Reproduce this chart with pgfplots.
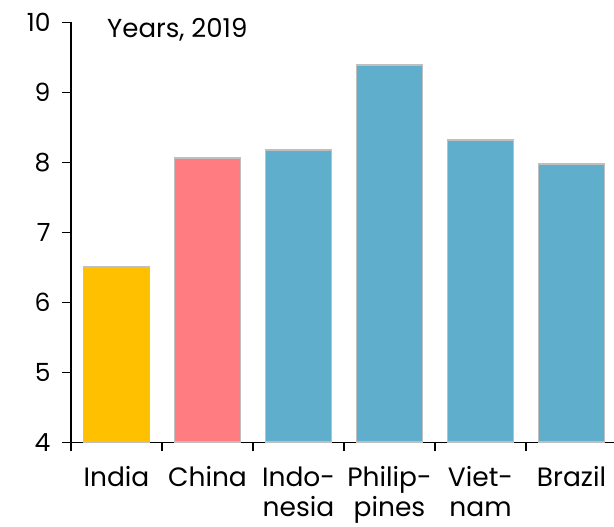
\documentclass[border=0pt]{standalone}
\usepackage{pgfplots}
\pgfplotsset{compat=1.18}
\usepackage{fontspec}
\setmainfont{Poppins}
\definecolor{cgold}{HTML}{FFC000}
\definecolor{csalmon}{HTML}{FF7C80}
\definecolor{cblue}{HTML}{5FAECC}
\definecolor{cedge}{HTML}{BFBFBF}
\begin{document}
\begin{tikzpicture}
\begin{axis}[
  name=ax,
  scale only axis,
  width=543pt, height=420pt,
  xmin=-0.5, xmax=5.467,
  ymin=4, ymax=10,
  ytick={4,5,6,7,8,9,10},
  axis lines*=left,
  axis line style={line width=1.3pt, black},
  tick align=outside,
  major tick length=9pt,
  every tick/.style={line width=1.3pt, black},
  xtick={0,1,2,3,4,5},
  xticklabels={India,China,{Indo-\\nesia},{Philip-\\pines},{Viet-\\nam},Brazil},
  xtick style={draw=none},
  extra x ticks={-0.5,0.5,1.5,2.5,3.5,4.5},
  extra x tick labels={},
  extra x tick style={xtick style={draw=black, line width=1.3pt}, major tick length=9pt},
  xticklabel style={font=\fontsize{26.5}{30}\selectfont, align=center, anchor=north, yshift=-12pt},
  yticklabel style={font=\fontsize{25}{28}\selectfont, xshift=-8pt},
  /pgf/number format/assume math mode=true,
  ybar, bar shift=0pt, bar width=0.725,
  clip=false,
]
\addplot[fill=cgold, draw=cedge, line width=1.8pt] coordinates {(0,6.5)};
\addplot[fill=csalmon, draw=cedge, line width=1.8pt] coordinates {(1,8.06)};
\addplot[fill=cblue, draw=cedge, line width=1.8pt] coordinates {(2,8.17) (3,9.39) (4,8.32) (5,7.98)};
\node[anchor=base west, font=\fontsize{26}{30}\selectfont, inner sep=0pt] at ([shift={(36pt,-15pt)}]rel axis cs:0,1) {Years, 2019};
\end{axis}
\pgfresetboundingbox
\path[use as bounding box] ([shift={(-71pt,-84.7pt)}]ax.south west) rectangle ([shift={(0pt,22.3pt)}]ax.north east);
\end{tikzpicture}
\end{document}
